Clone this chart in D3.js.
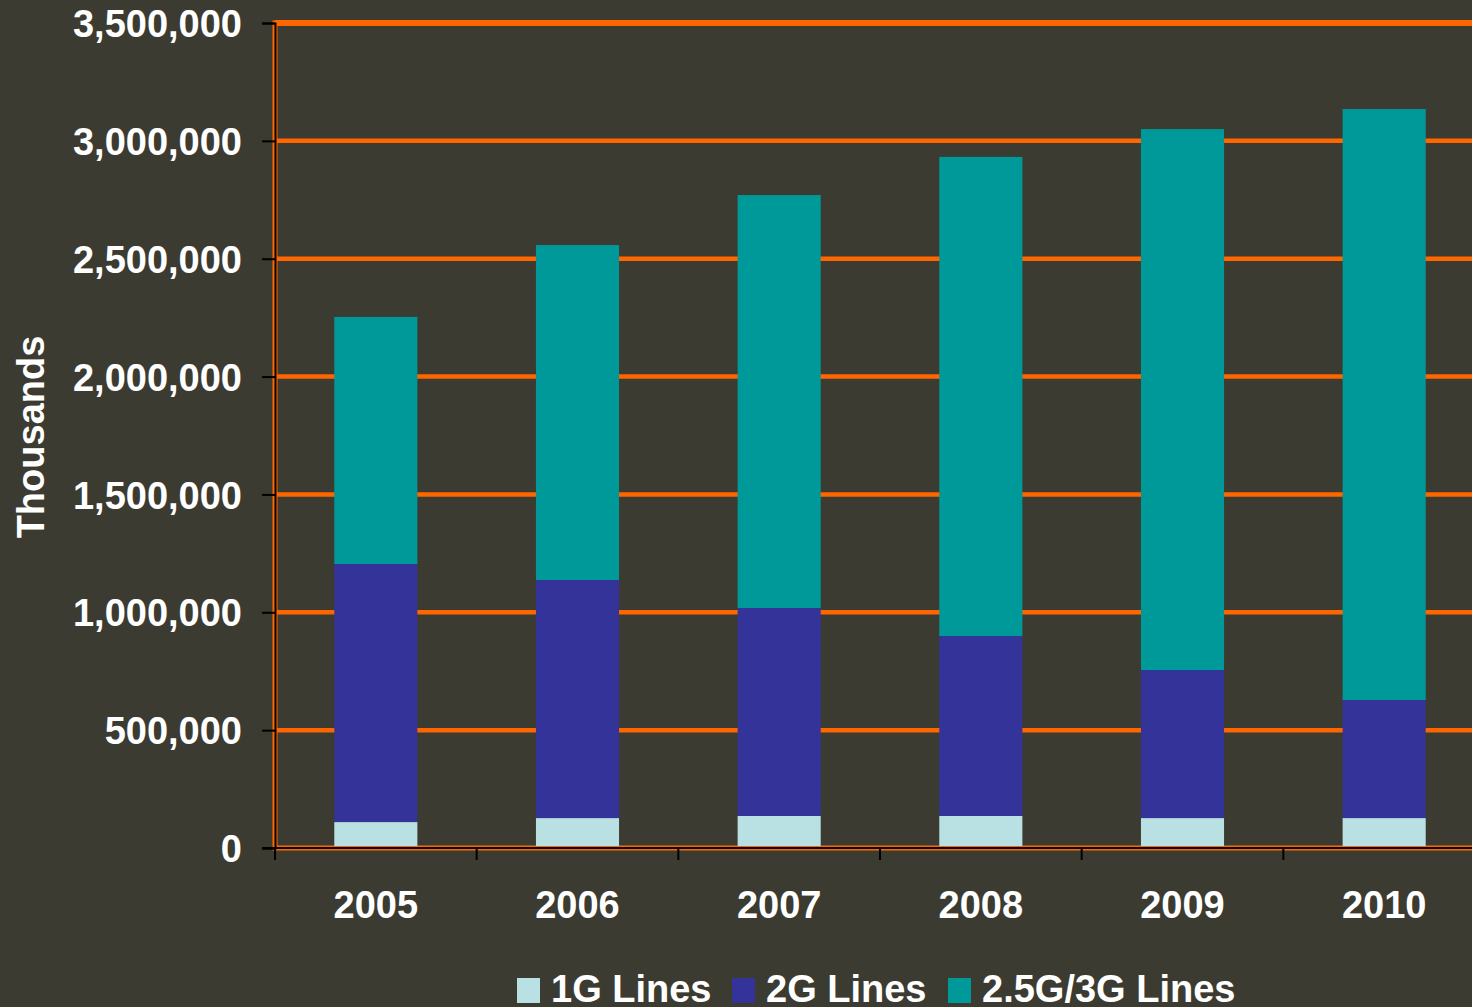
<!DOCTYPE html>
<html>
<head>
<meta charset="utf-8">
<script src="https://cdn.jsdelivr.net/npm/d3@7"></script>
<style>
  html, body { margin: 0; padding: 0; background: #3c3b31; overflow: hidden; }
  svg { display: block; }
  text { font-family: "Liberation Sans", Arial, sans-serif; font-weight: bold; fill: #ffffff; }
</style>
</head>
<body>
<script>
// Mobile lines by technology, thousands
const years = ["2005", "2006", "2007", "2008", "2009", "2010"];
const lines1G = [110000, 127000, 136000, 136000, 127000, 127000];
const lines2G = [1095000, 1010000, 882000, 763000, 628000, 501000];
const lines3G = [1048000, 1421000, 1752000, 2033000, 2295000, 2507000];
const seriesNames = ["1G Lines", "2G Lines", "2.5G/3G Lines"];
const seriesColors = ["#b9e0e3", "#333399", "#009999"];
const yTicks = [0, 500000, 1000000, 1500000, 2000000, 2500000, 3000000, 3500000];

const W = 1472, H = 1007;
const plot = { left: 275, right: 1485, top: 23, bottom: 848 };

const svg = d3.select("body").append("svg").attr("width", W).attr("height", H);

const x = d3.scaleBand().domain(years).range([plot.left, plot.right])
  .paddingInner(0.588).paddingOuter(0.294);
const y = d3.scaleLinear().domain([0, 3500000]).range([plot.bottom, plot.top]);

const rows = years.map((yr, i) => ({ year: yr, a: lines1G[i], b: lines2G[i], c: lines3G[i] }));
const stacked = d3.stack().keys(["a", "b", "c"])(rows);

// plot-area border
svg.append("rect")
  .attr("x", plot.left).attr("y", plot.top)
  .attr("width", plot.right - plot.left).attr("height", plot.bottom - plot.top)
  .attr("fill", "none").attr("stroke", "#ff6600").attr("stroke-width", 5);

// gridlines
svg.append("g").selectAll("line").data(yTicks.filter(d => d > 0)).join("line")
  .attr("x1", plot.left).attr("x2", plot.right)
  .attr("y1", d => y(d)).attr("y2", d => y(d))
  .attr("stroke", "#ff6600").attr("stroke-width", d => d === 3500000 ? 6 : 4.5);

// bars
svg.append("g").selectAll("g").data(stacked).join("g")
  .attr("fill", (d, i) => seriesColors[i])
  .selectAll("rect").data(d => d).join("rect")
  .attr("x", d => x(d.data.year))
  .attr("width", x.bandwidth())
  .attr("y", d => y(d[1]))
  .attr("height", d => y(d[0]) - y(d[1]) - (d[0] === 0 ? 2 : 0));

// y axis
const yAxis = svg.append("g").attr("transform", `translate(${plot.left},0)`)
  .call(d3.axisLeft(y).tickValues(yTicks).tickFormat(d3.format(",")).tickSize(13).tickPadding(20));
yAxis.select(".domain").attr("stroke", "#000").attr("stroke-width", 2);
yAxis.selectAll(".tick line").attr("stroke", "#000").attr("stroke-width", 2);
yAxis.selectAll(".tick text").attr("font-size", 38).attr("fill", "#fff")
  .style("font-family", '"Liberation Sans", Arial, sans-serif').style("font-weight", "bold")
  .attr("dy", "0.36em");

// x axis baseline and ticks at category boundaries
const gap = (x.step() - x.bandwidth()) / 2;
const xg = svg.append("g");
xg.append("line").attr("x1", plot.left - 13).attr("x2", W).attr("y1", plot.bottom).attr("y2", plot.bottom)
  .attr("stroke", "#000").attr("stroke-width", 2);
xg.selectAll("line.tk").data(years).join("line").attr("class", "tk")
  .attr("x1", d => x(d) - gap).attr("x2", d => x(d) - gap)
  .attr("y1", plot.bottom).attr("y2", plot.bottom + 12)
  .attr("stroke", "#000").attr("stroke-width", 2);
xg.selectAll("text").data(years).join("text")
  .attr("x", d => x(d) + x.bandwidth() / 2).attr("y", 918)
  .attr("text-anchor", "middle").attr("font-size", 38).text(d => d);

// y title
svg.append("text")
  .attr("transform", "translate(44,437) rotate(-90)")
  .attr("text-anchor", "middle").attr("font-size", 38).text("Thousands");

// legend
const legendX = [517, 732, 948];
const lg = svg.append("g");
seriesNames.forEach((name, i) => {
  lg.append("rect").attr("x", legendX[i]).attr("y", 978).attr("width", 23).attr("height", 25)
    .attr("fill", seriesColors[i]);
  lg.append("text").attr("x", legendX[i] + 34).attr("y", 1002).attr("font-size", 38).text(name);
});
</script>
</body>
</html>
